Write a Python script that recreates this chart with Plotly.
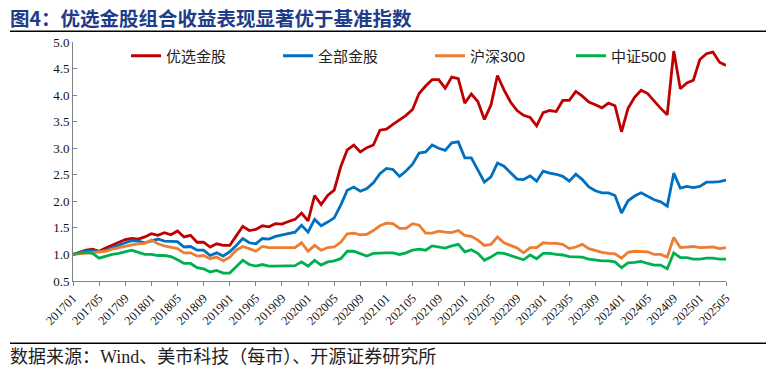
import plotly.graph_objects as go

months = [f"{y}{m:02d}" for y in range(2017, 2026) for m in range(1, 13)]
months = months[:months.index("202505") + 1]

tick_labels = months[::4]

series_names = ["优选金股", "全部金股", "沪深300", "中证500"]

youxuan = [1.00, 1.04, 1.08, 1.10, 1.06, 1.12, 1.17, 1.22, 1.28, 1.30,
           1.29, 1.33, 1.39, 1.36, 1.41, 1.37, 1.44, 1.33, 1.36, 1.23,
           1.23, 1.14, 1.20, 1.17, 1.17, 1.35, 1.53, 1.45, 1.47, 1.54,
           1.52, 1.58, 1.57, 1.62, 1.66, 1.78, 1.63, 2.11, 1.94, 2.11,
           2.21, 2.65, 2.97, 3.06, 2.93, 3.01, 3.06, 3.34, 3.36, 3.45,
           3.53, 3.62, 3.73, 4.03, 4.17, 4.29, 4.29, 4.13, 4.34, 4.31,
           3.85, 4.02, 3.88, 3.54, 3.81, 4.37, 4.10, 3.87, 3.71, 3.62,
           3.58, 3.42, 3.67, 3.71, 3.69, 3.90, 3.90, 4.07, 3.98, 3.87,
           3.82, 3.76, 3.85, 3.80, 3.31, 3.75, 3.96, 4.09, 4.03, 3.88,
           3.75, 3.63, 4.83, 4.12, 4.23, 4.28, 4.67, 4.78, 4.81, 4.62,
           4.56]

quanbu = [1.00, 1.03, 1.06, 1.07, 1.05, 1.08, 1.13, 1.17, 1.22, 1.26,
          1.25, 1.22, 1.26, 1.29, 1.25, 1.24, 1.24, 1.14, 1.15, 1.08,
          1.08, 0.98, 1.03, 0.97, 1.05, 1.17, 1.30, 1.22, 1.20, 1.30,
          1.29, 1.34, 1.37, 1.39, 1.42, 1.55, 1.42, 1.66, 1.54, 1.61,
          1.69, 1.93, 2.21, 2.27, 2.19, 2.24, 2.35, 2.52, 2.62, 2.60,
          2.47, 2.57, 2.70, 2.91, 2.93, 3.06, 3.00, 2.96, 3.10, 3.12,
          2.82, 2.82, 2.60, 2.36, 2.46, 2.72, 2.66, 2.53, 2.42, 2.41,
          2.48, 2.38, 2.57, 2.53, 2.51, 2.47, 2.38, 2.51, 2.41, 2.27,
          2.20, 2.16, 2.16, 2.11, 1.78, 2.01, 2.10, 2.16, 2.10, 2.03,
          1.99, 1.91, 2.53, 2.25, 2.28, 2.26, 2.28, 2.36, 2.36, 2.37,
          2.40]

hs300 = [1.00, 1.01, 1.02, 1.03, 1.04, 1.06, 1.10, 1.13, 1.16, 1.18,
         1.20, 1.21, 1.27, 1.20, 1.16, 1.13, 1.11, 1.03, 1.03, 0.97,
         0.98, 0.92, 0.95, 0.88, 0.95, 1.08, 1.15, 1.11, 1.06, 1.15,
         1.13, 1.13, 1.13, 1.14, 1.13, 1.22, 1.06, 1.17, 1.08, 1.13,
         1.14, 1.23, 1.39, 1.40, 1.37, 1.38, 1.45, 1.54, 1.59, 1.58,
         1.49, 1.49, 1.58, 1.55, 1.40, 1.40, 1.44, 1.42, 1.41, 1.45,
         1.36, 1.34, 1.27, 1.17, 1.19, 1.33, 1.22, 1.17, 1.12, 1.03,
         1.13, 1.13, 1.22, 1.21, 1.21, 1.19, 1.11, 1.14, 1.19, 1.11,
         1.07, 1.04, 1.02, 1.01, 0.93, 1.04, 1.06, 1.06, 1.05, 1.00,
         1.00, 0.95, 1.32, 1.13, 1.14, 1.15, 1.13, 1.14, 1.14, 1.11,
         1.13]

zz500 = [1.00, 1.03, 1.04, 1.02, 0.93, 0.97, 1.00, 1.02, 1.05, 1.08,
         1.04, 1.00, 1.00, 0.98, 0.98, 0.96, 0.90, 0.83, 0.83, 0.75,
         0.73, 0.67, 0.70, 0.65, 0.65, 0.78, 0.89, 0.81, 0.78, 0.81,
         0.78, 0.78, 0.78, 0.78, 0.79, 0.86, 0.78, 0.89, 0.80, 0.86,
         0.88, 0.92, 1.06, 1.06, 1.02, 0.97, 1.02, 1.03, 1.03, 1.03,
         1.00, 1.03, 1.08, 1.10, 1.08, 1.16, 1.14, 1.12, 1.16, 1.19,
         1.05, 1.09, 1.02, 0.89, 0.95, 1.03, 1.02, 0.98, 0.93, 0.90,
         0.99, 0.92, 1.02, 1.02, 1.00, 0.99, 0.96, 0.96, 0.95, 0.91,
         0.89, 0.88, 0.88, 0.86, 0.75, 0.84, 0.85, 0.87, 0.83, 0.80,
         0.80, 0.73, 1.03, 0.94, 0.94, 0.91, 0.91, 0.93, 0.93, 0.91,
         0.91]

y_ticks = [0.5, 1.0, 1.5, 2.0, 2.5, 3.0, 3.5, 4.0, 4.5, 5.0]

colors = ["#C00000", "#0070C0", "#ED7D31", "#00B050"]
all_series = [youxuan, quanbu, hs300, zz500]
legend_px = [126, 278, 430, 571]

# The page body has an 8px margin, so the figure starts at (8, 8) of the window.
OFF = 8
W, H = 774 - OFF, 374 - OFF
L, R, T, B = 73 - OFF, 774 - 726, 42 - OFF, 374 - 281
pw, ph = W - L - R, H - T - B


def px(x):
    return (x - OFF - L) / pw


def py(y):
    return (H - B - (y - OFF)) / ph


fig = go.Figure()
legend_ids = ["legend", "legend2", "legend3", "legend4"]
for name, vals, c, lid in zip(series_names, all_series, colors, legend_ids):
    fig.add_trace(go.Scatter(x=months, y=vals, mode="lines", name=name,
                             legend=lid, line=dict(color=c, width=2.8)))

serif = "Liberation Serif, Times New Roman, Noto Sans CJK SC, serif"

legend_layout = {}
for lid, lx in zip(legend_ids, legend_px):
    legend_layout[lid] = dict(
        orientation="h", x=px(lx), y=py(56), xanchor="left", yanchor="middle",
        font=dict(family="Liberation Sans, Noto Sans CJK SC", size=15, color="#222"),
        bgcolor="rgba(0,0,0,0)", borderwidth=0)

fig.update_layout(
    width=W, height=H,
    margin=dict(l=L, r=R, t=T, b=B, autoexpand=False),
    paper_bgcolor="white", plot_bgcolor="white",
    showlegend=True,
    xaxis=dict(type="category", range=[0, len(months) - 1],
               tickmode="array", tickvals=tick_labels, ticktext=tick_labels,
               tickangle=-45, ticks="outside", ticklen=4, tickcolor="#808080",
               showline=True, linecolor="#808080", linewidth=1,
               showgrid=False, zeroline=False,
               tickfont=dict(family=serif, size=12.5, color="#111")),
    yaxis=dict(range=[0.5, 5.0], tickmode="array", tickvals=y_ticks,
               tickformat=".1f", ticks="inside", ticklen=4, tickcolor="#808080",
               showline=True, linecolor="#808080", linewidth=1,
               showgrid=False, zeroline=False,
               tickfont=dict(family=serif, size=13, color="#111")),
    shapes=[
        dict(type="rect", xref="paper", yref="paper", layer="above",
             x0=px(10), x1=px(768), y0=py(32), y1=py(30.5),
             fillcolor="#000000", line=dict(width=0)),
        dict(type="rect", xref="paper", yref="paper", layer="above",
             x0=px(10), x1=px(768), y0=py(344), y1=py(342.5),
             fillcolor="#000000", line=dict(width=0)),
    ],
    **legend_layout,
)

fig.add_annotation(xref="paper", yref="paper", x=px(8), y=py(18),
                   xanchor="left", yanchor="middle", showarrow=False,
                   text="<b>图4：优选金股组合收益表现显著优于基准指数</b>",
                   font=dict(family="Noto Sans CJK SC", size=19.5, color="#1F3C88"))
fig.add_annotation(xref="paper", yref="paper", x=px(8), y=py(357),
                   xanchor="left", yanchor="middle", showarrow=False,
                   text="数据来源：Wind、美市科技（每市）、开源证券研究所",
                   font=dict(family=serif, size=18, color="#222"))

fig.write_html("out.html", config={"displayModeBar": False})
